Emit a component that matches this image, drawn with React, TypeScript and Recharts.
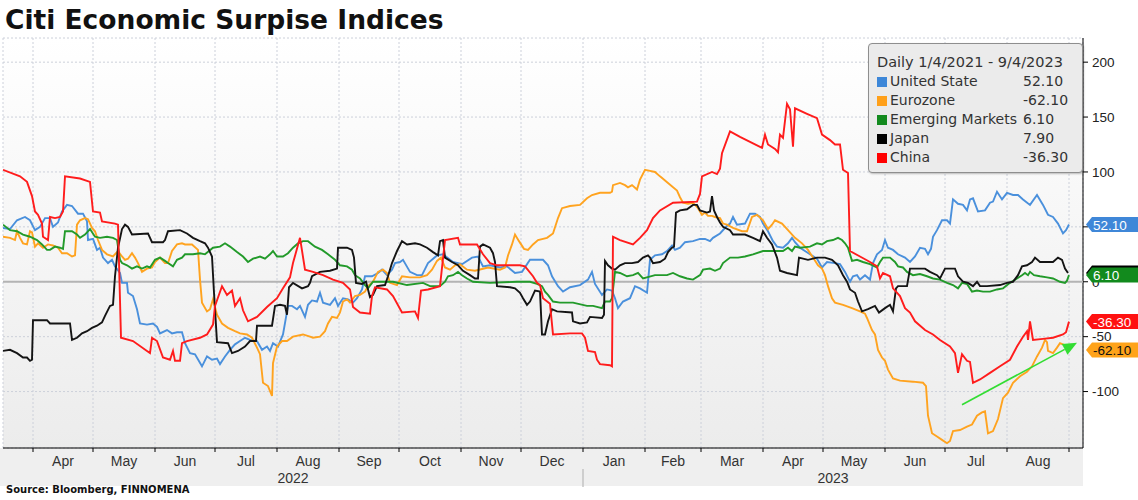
import React from 'react';
import { LineChart, Line, XAxis, YAxis, CartesianGrid, ReferenceLine, ReferenceDot, Legend } from 'recharts';

// x values: days since 2022-03-17
const monthStarts = [15, 45, 76, 106, 137, 168, 198, 229, 259, 290, 321, 349, 380, 410, 441, 471, 502, 533];
const monthMids = [30, 60.5, 91, 121.5, 152.5, 183, 213.5, 244, 274.5, 305.5, 335, 364.5, 395, 425.5, 456, 486.5, 517.5];
const monthLabels = ['Apr', 'May', 'Jun', 'Jul', 'Aug', 'Sep', 'Oct', 'Nov', 'Dec', 'Jan', 'Feb', 'Mar', 'Apr', 'May', 'Jun', 'Jul', 'Aug'];
const yearCenters = [145, 415];
const yearLabels = ['2022', '2023'];
const yearBreaks = [290];
const yTicks = [-100, -50, 0, 50, 100, 150, 200];

const seriesNames = ['United State', 'Eurozone', 'Emerging Markets', 'Japan', 'China'];
const lastValues = [52.1, -62.1, 6.1, 7.9, -36.3];
const legendTitle = 'Daily 1/4/2021 - 9/4/2023';
const chartTitle = 'Citi Economic Surpise Indices';
const sourceText = 'Source: Bloomberg, FINNOMENA';

const usSeries: [number, number][] = [[0,49],[3.5,48],[7,56],[11,59],[13.5,56],[16,47],[18.5,50],[21,58],[23.5,58],[25,50],[27.5,54],[29.5,64],[32,70],[34.5,69],[37.5,62],[40,62],[42,55],[42.5,38],[45,39],[47,29],[48.5,31],[50,22],[52.5,17],[54.5,20],[56,14],[58.5,8],[59.5,-1],[62,-1],[62.5,-10],[65,-13],[67,-25],[68.5,-38],[72,-39],[75,-38],[77,-41],[78.5,-47],[82,-44],[84.5,-47],[87,-46],[89.5,-46],[91,-56],[93.5,-65],[96,-66],[99.5,-77],[102,-68],[104.5,-71],[107,-70],[108.5,-75],[111,-68],[113.5,-62],[116,-57],[118.5,-54],[121,-51],[123.5,-53],[127,-54],[129.5,-62],[132,-59],[133.5,-63],[135,-56],[137.5,-59],[140,-48],[142.5,-22],[144.5,-22],[147,-25],[148.5,-22],[151,-32],[152.5,-21],[154.5,-17],[157,-18],[158.5,-10],[160,-19],[163.5,-21],[166,-15],[167.5,-22],[170,-15],[172.5,-16],[175,-19],[177,-15],[179.5,-7],[181,5],[184.5,5],[187.5,8],[189.5,11],[192,6],[194.5,11],[196,17],[198.5,18],[200,20],[203.5,9],[207,6],[209.5,6],[212.5,17],[217,24],[220,25],[225,18],[229.5,16],[234.5,22],[237.5,23],[240,14],[243.5,15],[248.5,13],[252,14],[256,8],[259.5,9],[263.5,20],[270,20],[272.5,15],[274.5,5],[277.5,-4],[280,-9],[283.5,-5],[288.5,-3],[292.5,2],[294.5,9],[296,-2],[299.5,-12],[302,-7],[304.5,-8],[306,-15],[307.5,-24],[310,-18],[313.5,-15],[316,-4],[318.5,-6],[322,-10],[323.5,20],[326,24],[329.5,25],[332,28],[334.5,33],[336,29],[338.5,31],[341,36],[345,37],[348.5,39],[351,39],[353.5,37],[355,40],[358.5,44],[362,51],[363.5,53],[365,59],[367,52],[371,53],[373.5,62],[376,62],[378.5,59],[380,53],[382.5,46],[385,37],[387,32],[390,31],[392.5,35],[394.5,40],[396,36],[398.5,31],[403.5,25],[407,21],[409.5,13],[412,18],[416,17],[418.5,16],[421,9],[423.5,0],[425,5],[427,6],[428.5,2],[431,6],[433.5,2],[435,17],[437,25],[439.5,29],[441,38],[442.5,31],[445,29],[447.5,25],[451,22],[453.5,18],[456,23],[458.5,31],[461,30],[462.5,25],[464,30],[465,41],[467,47],[469.5,56],[472,56],[473.5,53],[475,75],[477.5,71],[480,70],[482,65],[483.5,75],[485,76],[487.5,64],[491,65],[493.5,72],[495,73],[497,82],[499.5,75],[502,81],[505,79],[507.5,79],[510,75],[513.5,70],[517,79],[520,70],[522.5,61],[525,59],[527.5,53],[530,44],[531.5,47],[533,52.1]];

const ezSeries: [number, number][] = [[0,41],[3.5,40],[6,38],[7,46],[8.5,40],[10,35],[12,34],[13.5,46],[14.5,45],[16,32],[17.5,35],[20,31],[22.5,34],[25,33],[27.5,31],[29.5,26],[32,26],[34.5,23],[36,24],[37,52],[38.5,56],[41,58],[42.5,57],[44.5,49],[46,46],[47.5,38],[49.5,29],[52,25],[55,23],[57.5,28],[59.5,23],[61,20],[62.5,21],[64.5,26],[66,22],[67.5,17],[69.5,9],[72,12],[74.5,13],[76,18],[78.5,22],[81,17],[82.5,17],[84.5,28],[87,34],[89.5,35],[91,34],[94.5,34],[97.5,29],[98.5,2],[99.5,-19],[102,-27],[103.5,-25],[105,-16],[107,-30],[109.5,-38],[112.5,-42],[116,-45],[118.5,-47],[122,-48],[124.5,-51],[127,-60],[128.5,-66],[130,-92],[132.5,-95],[134.5,-104],[135,-74],[137,-59],[139.5,-54],[142,-54],[145,-50],[150,-48],[153.5,-50],[155,-51],[158.5,-50],[161,-45],[162.5,-38],[164.5,-32],[167,-33],[168.5,-28],[170,-18],[172,-16],[173.5,-19],[176,-13],[178.5,-12],[181,-9],[182.5,-4],[185,0],[187.5,9],[190,11],[192,8],[193.5,-1],[197,-3],[199.5,5],[203.5,4],[208.5,4],[212,6],[214.5,11],[217,19],[219,22],[221,13],[223.5,11],[226,15],[228.5,16],[232,11],[236,10],[242.5,13],[248.5,11],[251,13],[252.5,24],[254.5,34],[256,43],[258,37],[260.5,30],[262.5,29],[265,34],[267.5,38],[272,40],[275,44],[277.5,58],[279.5,67],[283.5,69],[288.5,70],[292,76],[294.5,79],[298.5,81],[303.5,81],[304.5,82],[305,88],[308.5,90],[311,88],[312.5,86],[314.5,88],[317,84],[318.5,93],[321,102],[323.5,101],[326,100],[328.5,96],[332.5,90],[337,83],[338.5,77],[340,72],[342.5,71],[345,72],[347.5,67],[349.5,61],[351,63],[352.5,60],[354.5,60],[356,59],[358.5,58],[360,53],[362,52],[365,49],[369.5,46],[372,46],[374.5,59],[377,61],[380,56],[382.5,48],[384.5,52],[386,56],[389.5,53],[392.5,47],[396,40],[399.5,35],[402.5,29],[405,22],[407.5,15],[409.5,12],[411,6],[412.5,-4],[414.5,-15],[416,-19],[420,-21],[424.5,-24],[428.5,-27],[431,-29],[432,-33],[434.5,-44],[436,-48],[437.5,-62],[439.5,-69],[441,-72],[442.5,-80],[445,-88],[448.5,-90],[455,-91],[460,-92],[461.5,-95],[462.5,-122],[464.5,-138],[467,-141],[469.5,-144],[472,-147],[473.5,-145],[475,-136],[478.5,-135],[482,-132],[484.5,-130],[487,-122],[489.5,-119],[491,-118],[492.5,-138],[495,-136],[497.5,-125],[500,-106],[502.5,-101],[505,-92],[508.5,-86],[512,-82],[514.5,-77],[517,-68],[519.5,-60],[521,-53],[522,-55],[522.5,-63],[525,-65],[527,-60],[528.5,-56],[530,-57],[531.5,-58],[533,-61]];

const emSeries: [number, number][] = [[0,52],[3.5,47],[7,46],[10,43],[13.5,41],[17,38],[19.5,34],[22,29],[23.5,29],[26,32],[28.5,31],[30,30],[31,46],[34.5,46],[37,43],[38.5,40],[41,43],[43.5,48],[46,41],[48.5,40],[52,41],[55,40],[57,38],[58.5,20],[59.5,17],[62,15],[64.5,12],[67,14],[69.5,12],[72,14],[73.5,13],[76,20],[78.5,22],[81,19],[82.5,17],[85,14],[87,20],[89.5,22],[91,25],[95,25],[98.5,26],[101,25],[105,31],[108.5,32],[111,35],[113.5,32],[117,27],[120,23],[122.5,18],[125,21],[128.5,23],[131,21],[133.5,25],[135,28],[137,23],[140,23],[142.5,26],[145,31],[147.5,35],[150,37],[152.5,37],[156,32],[159.5,29],[162.5,25],[166,20],[168.5,15],[172,14],[174.5,11],[176,6],[178.5,3],[181,-3],[182.5,-6],[185,0],[188.5,0],[195,0],[202,-3],[210,-1],[213.5,-4],[218.5,-4],[221,0],[222.5,5],[225,6],[227.5,9],[229.5,6],[232,3],[235,0],[243.5,-1],[257,0],[263.5,0],[267,-2],[269.5,-4],[271,-9],[272.5,-12],[275,-18],[278.5,-19],[285,-19],[292,-22],[295,-22],[299.5,-24],[301,-18],[303.5,-18],[304.5,-15],[306,9],[308.5,8],[312,5],[315,6],[317.5,8],[320,3],[326,6],[332,6],[335,8],[338.5,5],[342,3],[345,2],[348.5,6],[350,11],[353.5,12],[356,10],[358.5,12],[360,17],[363.5,22],[367.5,22],[371,23],[375,25],[380,28],[390,28],[392.5,31],[394.5,28],[396,32],[398.5,31],[403.5,32],[407,35],[409.5,34],[412,37],[415,38],[417.5,40],[419.5,38],[421,35],[422.5,31],[424.5,19],[427,20],[430,18],[433.5,16],[437,13],[438.5,18],[440,22],[443.5,22],[446,18],[447.5,14],[450,13],[452,9],[455,6],[458.5,7],[462,5],[465,3],[468.5,2],[472,-1],[475,-3],[477.5,-6],[479.5,-1],[482,-2],[484.5,-9],[487,-8],[490,-9],[493.5,-9],[497,-7],[500,-6],[503.5,-1],[507,3],[509.5,6],[511,8],[512.5,6],[513.5,9],[515.5,6],[518.5,5],[522,4],[525,3],[528.5,0],[531,-1],[532,1],[533,6.1]];

const jpSeries: [number, number][] = [[0,-63],[3.5,-62],[7,-65],[10,-69],[12,-69],[13.5,-72],[14.5,-71],[15,-35],[22,-35],[23.5,-38],[33.5,-38],[34.5,-53],[37,-51],[39.5,-47],[42,-45],[44.5,-42],[47,-40],[49.5,-37],[51,-31],[53.5,-22],[55,-21],[56,5],[57.5,31],[59.5,48],[61,52],[62.5,50],[64.5,43],[72.5,44],[74.5,36],[80,36],[81,38],[82.5,46],[88.5,47],[92,44],[95,40],[98.5,37],[101,35],[102.5,31],[104.5,23],[105.5,-10],[107,-55],[112.5,-56],[114.5,-65],[117.5,-63],[121,-59],[123.5,-54],[126.5,-54],[127,-40],[134.5,-40],[136,-22],[138.5,-21],[141,-22],[142,-30],[143,-5],[145,-1],[149.5,-6],[152.5,-4],[153.5,-1],[154.5,5],[158.5,9],[163.5,10],[167,12],[167.5,31],[172,31],[174.5,29],[175.5,22],[176.5,-1],[179.5,-2],[181.5,0],[183.5,-14],[185,-12],[187,-4],[191,-3],[192.5,5],[194.5,17],[197,28],[199.5,37],[202,34],[206,35],[208.5,34],[212,31],[215,27],[217.5,24],[218.5,37],[220,38],[221,22],[224.5,18],[227.5,15],[230,10],[233.5,6],[236,3],[237.5,3],[238.5,32],[240,34],[243.5,31],[245,26],[246,18],[247,-4],[253.5,-5],[256,-6],[258.5,-10],[260,-15],[262,-21],[263.5,-18],[266,-8],[268.5,-9],[269.5,-48],[271,-48],[272.5,-36],[274.5,-25],[277,-27],[284.5,-28],[285,-36],[288.5,-38],[292,-37],[293.5,-32],[299.5,-33],[300.5,-30],[301,19],[302.5,15],[304.5,12],[306,11],[308.5,15],[311,17],[314.5,17],[317.5,18],[320,22],[322.5,24],[323.5,22],[325,17],[328.5,18],[331,21],[332.5,27],[334.5,31],[335.5,32],[336.5,63],[338.5,65],[342,66],[345,70],[347,70],[348.5,65],[352,63],[353.5,64],[354.5,78],[355.5,65],[357,59],[358.5,54],[360,50],[363.5,47],[365,43],[371,43],[375,40],[378.5,37],[380,46],[382,40],[384.5,34],[387,22],[388.5,10],[392,8],[397,6],[398,22],[402.5,20],[407,22],[411,22],[414.5,20],[417.5,15],[420,6],[422,0],[423.5,-7],[426,-10],[427.5,-18],[429.5,-27],[432.5,-25],[436,-22],[438,-28],[441,-24],[443.5,-21],[445,-27],[446.5,-6],[447.5,-4],[452,-4],[453.5,12],[461,12],[463.5,9],[467,6],[468.5,3],[471,12],[476,12],[477.5,5],[480,0],[482.5,-1],[485,-4],[487,0],[488.5,-4],[492,-4],[498.5,-3],[502,-1],[505,0],[507.5,6],[509.5,14],[512,15],[514.5,18],[516,22],[518.5,18],[525,18],[527.5,22],[529.5,20],[531,12],[532.5,7.9]];

const cnSeries: [number, number][] = [[0,102],[8.5,96],[12,91],[14.5,78],[16,64],[17.5,61],[19.5,53],[20,41],[22.5,38],[23.5,59],[26,58],[28.5,59],[30,64],[31,96],[38.5,94],[43.5,91],[45,64],[48.5,63],[49.5,55],[56,53],[57.5,52],[59,-51],[65,-54],[72,-63],[73.5,-65],[74.5,-51],[77,-54],[80,-69],[83.5,-71],[85,-63],[86,-72],[88.5,-72],[89.5,-56],[92,-54],[98.5,-51],[102,-48],[105,-39],[106,-22],[109.5,-4],[112,-12],[114.5,-8],[116,-22],[118.5,-15],[120,-26],[122.5,-36],[127,-32],[132,-23],[137,-15],[140,-6],[143.5,4],[145,17],[148.5,40],[151,11],[155,9],[160,6],[165,2],[170,-1],[173.5,-7],[175,-23],[178.5,-28],[183.5,-29],[184.5,-13],[186,-5],[192,-7],[195,-13],[199.5,-28],[206,-27],[207.5,-33],[209,-8],[212.5,-7],[218.5,-4],[221,38],[227.5,40],[228.5,34],[237,34],[240,25],[243.5,17],[247,15],[258.5,15],[261,14],[265,5],[267,-1],[268.5,-3],[270,-15],[273.5,-20],[275,-48],[283.5,-47],[289.5,-47],[291,-51],[292.5,-63],[296,-64],[297,-71],[298.5,-75],[303.5,-76],[304.5,-77],[305,41],[308.5,38],[315,34],[318.5,40],[322,47],[325,58],[328.5,65],[335,72],[347,73],[348.5,80],[349.5,96],[354.5,100],[357,98],[358.5,103],[359.5,117],[363.5,137],[368.5,132],[375,126],[379.5,122],[381,134],[382.5,125],[386,121],[387.5,118],[388.5,134],[390,131],[392,162],[393.5,157],[395,123],[396,158],[402,153],[407,149],[409.5,134],[413.5,129],[416,125],[418.5,125],[420,102],[422.5,99],[423.5,28],[428.5,23],[433.5,18],[437,14],[438.5,3],[440,8],[443.5,5],[445,-6],[448.5,-13],[451,-24],[453.5,-28],[456,-36],[461,-44],[465,-48],[468.5,-53],[473.5,-59],[476,-65],[477.5,-83],[479.5,-66],[482,-72],[483.5,-73],[485,-92],[488.5,-89],[493.5,-83],[498.5,-77],[503.5,-71],[507,-59],[510,-50],[512,-45],[512.5,-53],[513.5,-36],[515,-53],[520,-52],[525,-51],[530,-48],[531.5,-46],[533,-36.3]];

// annotation arrow (data coordinates)
const arrowFrom = { d: 479.5, v: -112 };
const arrowTo = { d: 537, v: -55.5 };

const lineColors = ['#4a90dc', '#ffa31f', '#229a2a', '#141414', '#ff1c1c'];
const legendColors = ['#3d87d8', '#ffa01a', '#138a1f', '#000000', '#ff0000'];
const badgeColors = ['#3f87d8', '#ffa31a', '#128a1d', '#000000', '#ff1111'];
const badgeText = ['#ffffff', '#111111', '#ffffff', '#ffffff', '#ffffff'];

const toPoints = (s: [number, number][]) => s.map(([d, v]) => ({ d, v }));
const allSeries = [usSeries, ezSeries, emSeries, jpSeries, cnSeries].map(toPoints);

const X_DOMAIN: [number, number] = [0, 540];
const Y_DOMAIN: [number, number] = [-151.4, 222];
const AXIS_FONT = '"Liberation Sans", Arial, sans-serif';

const MonthLabelTick = (props: any) => {
  const { x, y, payload } = props;
  const i = monthMids.indexOf(payload.value);
  return (
    <text x={x} y={y + 9} textAnchor="middle" dominantBaseline="central" fontSize={14} fontFamily={AXIS_FONT} fill="#333">
      {monthLabels[i]}
    </text>
  );
};

const YearTick = (props: any) => {
  const { x, y, payload } = props;
  if (yearBreaks.includes(payload.value)) {
    return <line x1={x} x2={x} y1={y - 1} y2={y + 17} stroke="#b8b8b8" strokeWidth={1.2} />;
  }
  const i = yearCenters.indexOf(payload.value);
  return (
    <text x={x} y={y + 8} textAnchor="middle" dominantBaseline="central" fontSize={14} fontFamily={AXIS_FONT} fill="#333">
      {yearLabels[i]}
    </text>
  );
};

const badgeOrder = [0, 3, 2, 4, 1];

// value badges drawn as the ticks of a second right axis that renders after the labelled one
const BadgeTick = (props: any) => {
  const { x, y, payload } = props;
  const i = lastValues.indexOf(payload.value);
  if (i < 0) return <g />;
  const cx = x;
  const cy = y;
  const h = 7.5;
  const pts = `${cx + 3},${cy} ${cx + 9},${cy - h} ${cx + 55},${cy - h} ${cx + 55},${cy + h} ${cx + 9},${cy + h}`;
  return (
    <g>
      <polygon points={pts} fill={badgeColors[i]} />
      <text x={cx + 10} y={cy + 0.5} dominantBaseline="central" fontSize={13.5} fontFamily={AXIS_FONT} fill={badgeText[i]}>
        {lastValues[i].toFixed(2)}
      </text>
    </g>
  );
};

const makeBadge = (i: number) => (props: any) => {
  const { cx, cy } = props;
  const h = 7.5;
  const pts = `${cx + 3},${cy} ${cx + 9},${cy - h} ${cx + 55},${cy - h} ${cx + 55},${cy + h} ${cx + 9},${cy + h}`;
  return (
    <g>
      <polygon points={pts} fill={badgeColors[i]} />
      <text x={cx + 10} y={cy + 0.5} dominantBaseline="central" fontSize={13.5} fontFamily={AXIS_FONT} fill={badgeText[i]}>
        {lastValues[i].toFixed(2)}
      </text>
    </g>
  );
};

const ArrowShape = (props: any) => {
  const { x1, y1, x2, y2 } = props;
  const ang = Math.atan2(y2 - y1, x2 - x1);
  const L = 14;
  const W = 6;
  const bx = x2 - L * Math.cos(ang);
  const by = y2 - L * Math.sin(ang);
  const px = -Math.sin(ang) * W;
  const py = Math.cos(ang) * W;
  return (
    <g>
      <line x1={x1} y1={y1} x2={bx} y2={by} stroke="#33dd33" strokeWidth={1.6} />
      <polygon points={`${x2},${y2} ${bx + px},${by + py} ${bx - px},${by - py}`} fill="#33dd33" />
    </g>
  );
};

const LegendBox = () => (
  <div
    style={{
      width: 215,
      height: 130,
      boxSizing: 'border-box',
      background: '#ebebeb',
      border: '1px solid #8e8e8e',
      borderRadius: 4,
      boxShadow: '1px 1px 2px rgba(0,0,0,0.25)',
      fontFamily: '"DejaVu Sans", Verdana, sans-serif',
      fontSize: 14,
      color: '#333',
      padding: '9px 0 0 8px',
      lineHeight: '19px',
      textAlign: 'left',
    }}
  >
    <div style={{ whiteSpace: 'nowrap', fontSize: 14.5 }}>{legendTitle}</div>
    {seriesNames.map((n, i) => (
      <div key={n} style={{ display: 'flex', alignItems: 'center', whiteSpace: 'nowrap' }}>
        <span style={{ display: 'inline-block', width: 10, height: 10, background: legendColors[i], marginRight: 3 }} />
        <span style={{ display: 'inline-block', width: 133 }}>{n}</span>
        <span>{lastValues[i].toFixed(2)}</span>
      </div>
    ))}
  </div>
);

export default function App() {
  return (
    <div style={{ position: 'absolute', left: 0, top: 0, width: 1138, height: 500, background: '#fff', overflow: 'hidden' }}>
      <div style={{ position: 'absolute', left: 0, top: 448, width: 1083, height: 38, background: '#efefef' }} />
      <div
        style={{
          position: 'absolute',
          left: 5,
          top: 5,
          fontFamily: '"DejaVu Sans", Verdana, sans-serif',
          fontWeight: 'bold',
          fontSize: 26.5,
          lineHeight: '30px',
          color: '#111',
          whiteSpace: 'nowrap',
        }}
      >
        {chartTitle}
      </div>
      <div
        style={{
          position: 'absolute',
          left: 6,
          top: 484,
          fontFamily: '"DejaVu Sans", Verdana, sans-serif',
          fontWeight: 'bold',
          fontSize: 10,
          lineHeight: '12px',
          color: '#111',
          whiteSpace: 'nowrap',
        }}
      >
        {sourceText}
      </div>
      <div style={{ position: 'absolute', left: 0, top: 0 }}>
        <LineChart width={1138} height={500} margin={{ top: 38, right: 0, bottom: 12, left: 3 }}>
          <defs>
            <linearGradient id="plotBg" x1="0" y1="0" x2="0" y2="1">
              <stop offset="0%" stopColor="#ffffff" />
              <stop offset="100%" stopColor="#ececec" />
            </linearGradient>
          </defs>
          <CartesianGrid stroke="#ccd0da" strokeDasharray="2 2" fill="url(#plotBg)" fillOpacity={1} />
          <XAxis
            dataKey="d"
            type="number"
            domain={X_DOMAIN}
            allowDataOverflow
            ticks={monthStarts}
            interval={0}
            height={4}
            tickSize={4}
            tickMargin={0}
            tickFormatter={() => ''}
            axisLine={{ stroke: '#000' }}
            tickLine={{ stroke: '#000' }}
          />
          <XAxis
            xAxisId="lbl"
            dataKey="d"
            type="number"
            domain={X_DOMAIN}
            allowDataOverflow
            ticks={monthMids}
            interval={0}
            height={18}
            tickSize={0}
            tickMargin={0}
            axisLine={false}
            tickLine={false}
            tick={<MonthLabelTick />}
          />
          <XAxis
            xAxisId="yr"
            dataKey="d"
            type="number"
            domain={X_DOMAIN}
            allowDataOverflow
            ticks={[...yearCenters, ...yearBreaks]}
            interval={0}
            height={18}
            tickSize={0}
            tickMargin={0}
            axisLine={false}
            tickLine={false}
            tick={<YearTick />}
          />
          <YAxis
            orientation="right"
            type="number"
            domain={Y_DOMAIN}
            allowDataOverflow
            ticks={yTicks}
            interval={0}
            width={55}
            tickSize={5}
            tickMargin={4}
            zIndex={400}
            axisLine={{ stroke: '#000' }}
            tickLine={{ stroke: '#000' }}
            tick={{ fontSize: 13.5, fill: '#222', fontFamily: AXIS_FONT }}
          />
          <ReferenceLine y={0} stroke="#b4b4b4" strokeWidth={2} />
          {allSeries.map((pts, i) => (
            <Line
              key={seriesNames[i]}
              data={pts}
              dataKey="v"
              name={seriesNames[i]}
              type="linear"
              stroke={lineColors[i]}
              strokeWidth={1.9}
              dot={false}
              activeDot={false}
              isAnimationActive={false}
            />
          ))}
          <ReferenceLine
            segment={[{ x: arrowFrom.d, y: arrowFrom.v }, { x: arrowTo.d, y: arrowTo.v }]}
            ifOverflow="visible"
            shape={<ArrowShape />}
          />
          {badgeOrder.map((i) => (
            <ReferenceDot
              key={'b' + i}
              x={X_DOMAIN[1]}
              y={lastValues[i]}
              r={0}
              ifOverflow="visible"
              zIndex={3000}
              shape={makeBadge(i)}
            />
          ))}
          <Legend
            layout="vertical"
            align="center"
            verticalAlign="middle"
            wrapperStyle={{ left: 868, top: 43, width: 215, height: 130 }}
            content={() => <LegendBox />}
          />
        </LineChart>
      </div>
    </div>
  );
}
